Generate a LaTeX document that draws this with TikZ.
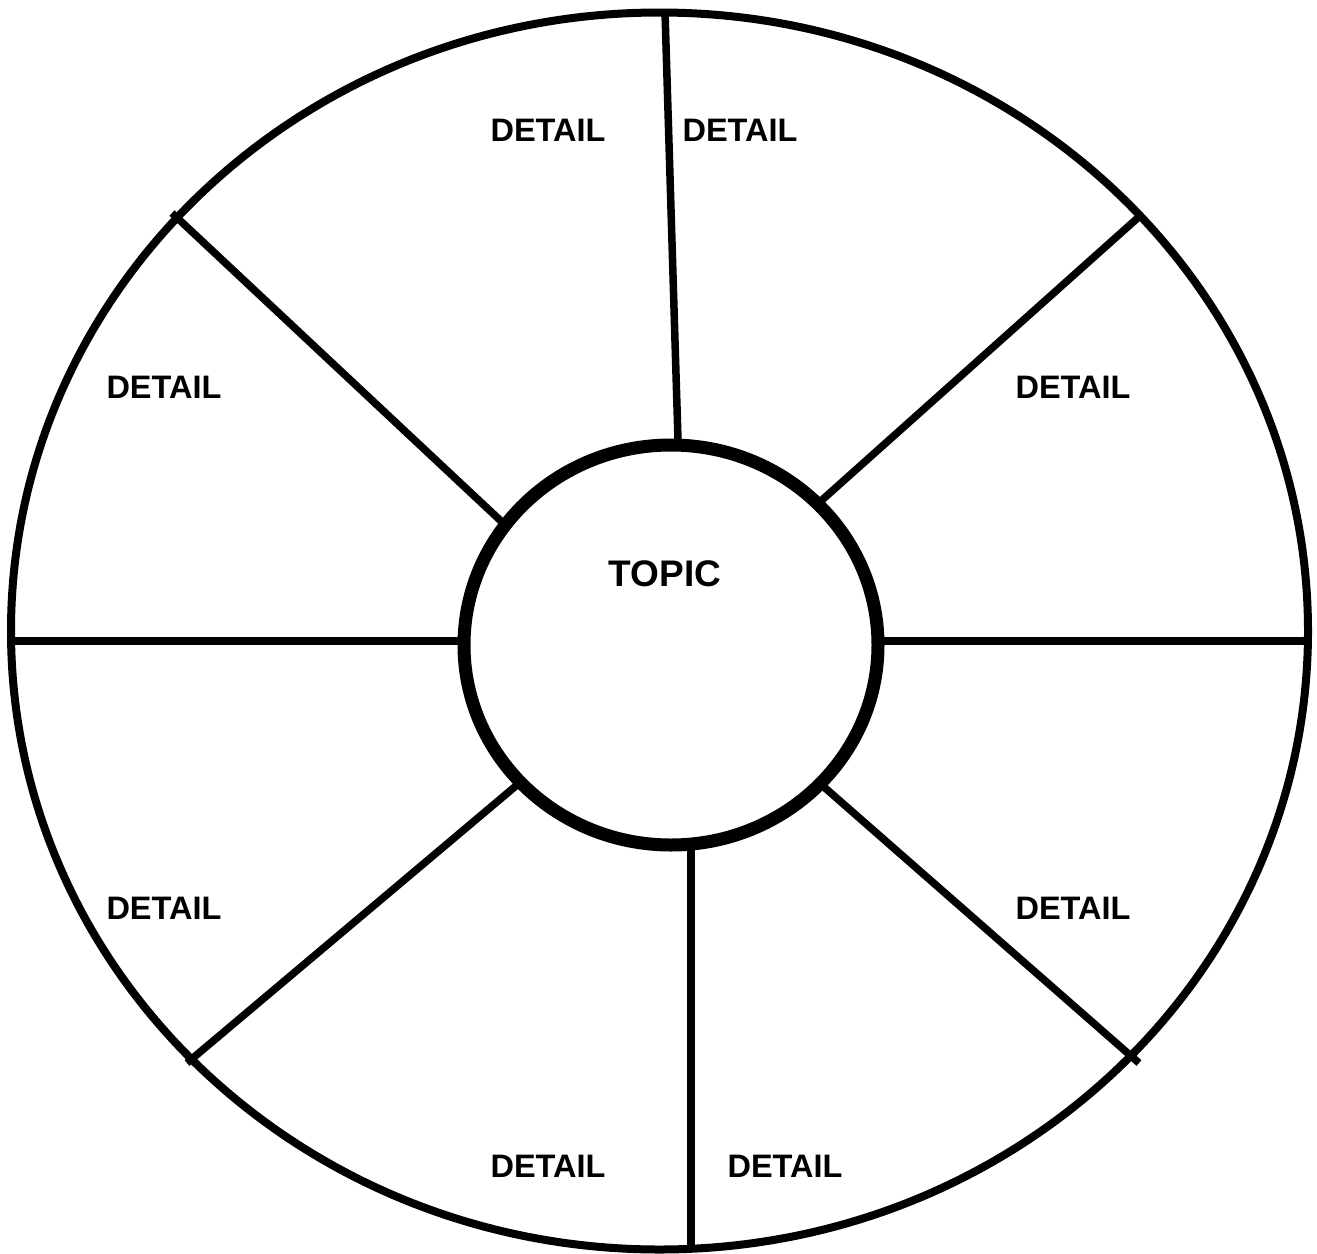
\documentclass[tikz,border=0pt]{standalone}
\usepackage{fontspec}
\setmainfont{Liberation Sans}
\usetikzlibrary{shapes.geometric}
\begin{document}
\begin{tikzpicture}[x=1pt,y=-1pt,
  ring/.style={draw=black, ellipse, inner sep=0pt},
  spoke/.style={draw=black, line width=7.5pt},
  detail/.style={font=\fontsize{32.5}{36}\selectfont\bfseries, inner sep=0pt},
  topic/.style={font=\fontsize{37}{40}\selectfont\bfseries, inner sep=0pt}]
\useasboundingbox[fill=white] (0,0) rectangle (1317,1253);
% outer ring
\node[ring, line width=8pt, minimum width=1297pt, minimum height=1237pt] (outer) at (659.5,631) {};
% spoke end points
\coordinate (t1) at (665,12);   \coordinate (t2) at (678,440);
\coordinate (ur1) at (1141,215); \coordinate (ur2) at (822,500);
\coordinate (r1) at (1304,641); \coordinate (r2) at (878,641);
\coordinate (lr1) at (1139,1063); \coordinate (lr2) at (824,787);
\coordinate (b1) at (691,1246); \coordinate (b2) at (691,838);
\coordinate (ll1) at (187,1063); \coordinate (ll2) at (517,785);
\coordinate (l1) at (13,641); \coordinate (l2) at (464,641);
\coordinate (ul1) at (172,213); \coordinate (ul2) at (502,522);
\draw[spoke] (t1) -- (t2);
\draw[spoke] (ur1) -- (ur2);
\draw[spoke] (r1) -- (r2);
\draw[spoke] (lr1) -- (lr2);
\draw[spoke] (ll1) -- (ll2);
\draw[spoke] (l1) -- (l2);
\draw[spoke] (ul1) -- (ul2);
% inner ring
\node[ring, line width=13pt, fill=white, minimum width=414pt, minimum height=400pt] (inner) at (671,645) {};
\draw[spoke] (b1) -- (b2);
% labels
\node[topic] (topic) at (665,574) {TOPIC};
\node[detail] (d1) at (548,130) {DETAIL};
\node[detail] (d2) at (740,130) {DETAIL};
\node[detail] (d3) at (164,387) {DETAIL};
\node[detail] (d4) at (1073,387) {DETAIL};
\node[detail] (d5) at (164,908) {DETAIL};
\node[detail] (d6) at (1073,908) {DETAIL};
\node[detail] (d7) at (548,1166) {DETAIL};
\node[detail] (d8) at (785,1166) {DETAIL};
\end{tikzpicture}
\end{document}
